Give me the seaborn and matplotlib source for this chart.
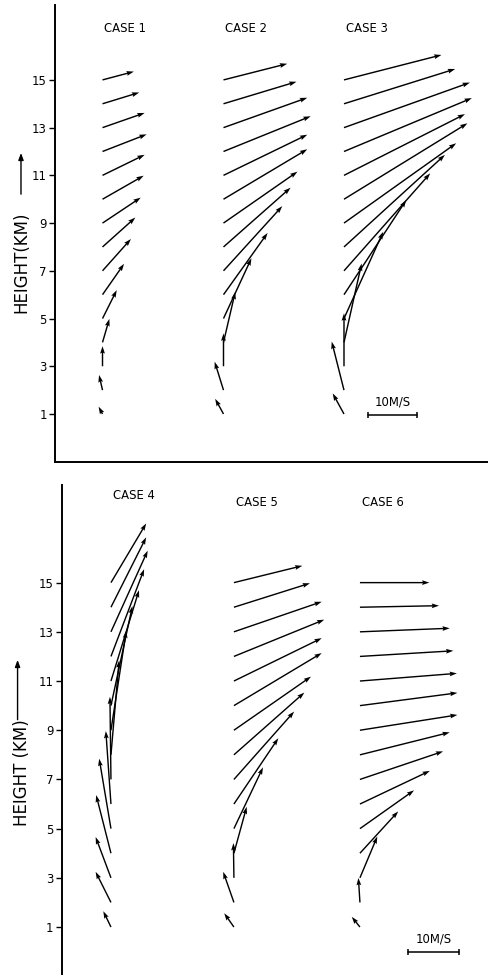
import numpy as np
import matplotlib
matplotlib.use("Agg")
import matplotlib.pyplot as plt
import seaborn as sns

# heights (km) of each wind vector
heights = list(range(1, 16))
ytick_vals = [1, 3, 5, 7, 9, 11, 13, 15]
case_names_top = ["CASE 1", "CASE 2", "CASE 3"]
case_names_bot = ["CASE 4", "CASE 5", "CASE 6"]

# wind components u (east) / v (north), m/s, from 1 km to 15 km
case1_u = [-0.8, -0.7, 0.0, 1.4, 2.9, 4.4, 5.8, 6.7, 7.8, 8.4, 8.6, 9.0, 8.6, 7.5, 6.4]
case1_v = [1.5, 3.1, 4.1, 4.8, 5.8, 6.3, 6.5, 6.0, 5.2, 4.8, 4.2, 3.5, 3.0, 2.3, 1.7]
case2_u = [-1.7, -1.8, 0.0, 2.4, 5.7, 9.0, 12.0, 13.7, 15.1, 17.1, 17.1, 17.8, 17.1, 14.9, 13.0]
case2_v = [3.1, 5.8, 6.7, 10.3, 12.3, 12.6, 13.2, 12.1, 10.5, 10.2, 8.3, 7.2, 6.1, 4.5, 3.3]
case3_u = [-2.3, -2.5, 0.0, 3.6, 8.0, 12.7, 17.6, 20.6, 22.9, 25.2, 24.7, 26.1, 25.7, 22.7, 19.9]
case3_v = [4.2, 9.9, 10.8, 16.1, 17.7, 19.3, 19.9, 18.8, 16.3, 15.5, 12.5, 10.9, 9.2, 7.1, 5.1]
case4_u = [-1.5, -3.0, -3.0, -2.9, -2.3, -1.0, -0.2, 1.6, 3.0, 4.2, 5.5, 6.5, 7.2, 6.9, 6.9]
case4_v = [3.1, 6.0, 8.0, 11.4, 13.7, 14.3, 16.2, 18.5, 19.5, 19.5, 17.8, 17.1, 15.9, 13.7, 11.6]
case5_u = [-1.9, -2.1, -0.1, 2.5, 5.7, 8.7, 11.8, 13.8, 15.1, 17.2, 17.2, 17.7, 17.2, 14.9, 13.4]
case5_v = [2.7, 6.0, 6.8, 9.1, 12.0, 12.9, 13.3, 12.2, 10.5, 10.3, 8.4, 7.2, 5.9, 4.7, 3.3]
case6_u = [-1.6, -0.3, 3.4, 7.5, 10.6, 13.7, 16.3, 17.6, 19.1, 19.1, 19.0, 18.3, 17.6, 15.5, 13.6]
case6_v = [2.0, 4.8, 8.1, 8.2, 7.5, 6.5, 5.5, 4.4, 3.0, 2.5, 1.5, 1.1, 0.7, 0.3, 0.0]

scale_len = 10  # m/s, reference bar

sns.set_theme(style="ticks")
plt.rcParams["font.family"] = ["DejaVu Sans"]
plt.rcParams["text.color"] = "black"

fig = plt.figure(figsize=(4.88, 9.75), dpi=100)
ax_top = fig.add_axes([0.1127, 0.5262, 0.8873, 0.4687])
ax_bot = fig.add_axes([0.127, 0.0, 0.873, 0.5026])

qkw = dict(angles="uv", scale_units="x", scale=1, color="black",
           width=0.0033, headwidth=3.4, headlength=5.2, headaxislength=4.6,
           zorder=3)


def draw_panel(ax, cases, names, bases, title_y, ylim, xmax, bar_x, bar_y):
    for (u, v), name, x0, ty in zip(cases, names, bases, title_y):
        ax.quiver(np.full(len(heights), x0), heights, u, v, **qkw)
        ax.text(x0 + 0.4, ty, name, fontsize=8.4, ha="left", va="center",
                color="black")
    ax.set_xlim(0, xmax)
    ax.set_ylim(*ylim)
    ax.set_yticks(ytick_vals)
    ax.set_yticklabels([str(t) for t in ytick_vals], fontsize=8.4)
    ax.set_xticks([])
    ax.tick_params(axis="y", direction="out", length=4, width=1, pad=2,
                   colors="black")
    for s in ax.spines.values():
        s.set_linewidth(1.4)
        s.set_color("black")
    # 10 m/s reference bar
    ax.plot([bar_x, bar_x + scale_len], [bar_y, bar_y], color="black",
            lw=1.1, marker="|", ms=5, mew=1.1)
    ax.text(bar_x + scale_len / 2, bar_y + 0.25, "10M/S", fontsize=8.4,
            ha="center", va="bottom", color="black")
    ax.set_facecolor("white")


draw_panel(ax_top, [(case1_u, case1_v), (case2_u, case2_v), (case3_u, case3_v)],
           case_names_top, [9.7, 34.4, 59.0], [17.15, 17.15, 17.15],
           (-1.01, 18.14), 88.4, 63.9, 0.96)
sns.despine(ax=ax_top)

draw_panel(ax_bot, [(case4_u, case4_v), (case5_u, case5_v), (case6_u, case6_v)],
           case_names_bot, [9.6, 33.7, 58.4], [18.56, 18.24, 18.24],
           (-0.95, 18.97), 83.5, 67.8, 0.0)
sns.despine(ax=ax_bot, bottom=True)

# axis labels with upward arrows
fig.text(0.043, 0.731, "HEIGHT(KM)", rotation=90, fontsize=12,
         ha="center", va="center", color="black")
fig.patches.append(matplotlib.patches.FancyArrowPatch(
    (0.043, 0.798), (0.043, 0.846), transform=fig.transFigure,
    arrowstyle="-|>,head_length=4,head_width=1.5", lw=1.0, color="black"))
fig.text(0.045, 0.208, "HEIGHT (KM)", rotation=90, fontsize=12,
         ha="center", va="center", color="black")
fig.patches.append(matplotlib.patches.FancyArrowPatch(
    (0.036, 0.259), (0.036, 0.326), transform=fig.transFigure,
    arrowstyle="-|>,head_length=4,head_width=1.5", lw=1.0, color="black"))

fig.savefig("out.png", dpi=100, facecolor="white")
